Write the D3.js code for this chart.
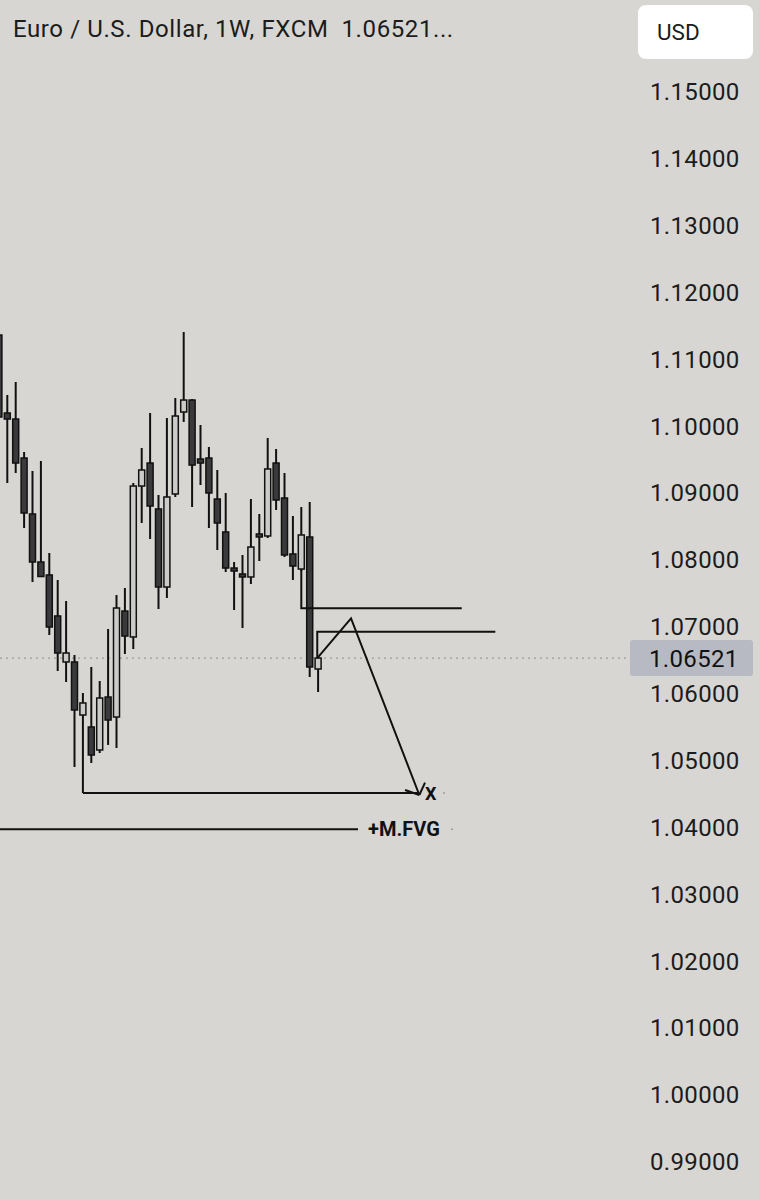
<!DOCTYPE html>
<html><head><meta charset="utf-8">
<script src="https://cdn.jsdelivr.net/npm/d3@7"></script>
<style>html,body{margin:0;padding:0;background:#d7d6d2;}svg{display:block;}</style>
</head><body>
<svg id="c" width="759" height="1200"></svg>
<script>
// Weekly candles EUR/USD (FXCM)
const weeks = ["2023-07-24","2023-07-31","2023-08-07","2023-08-14","2023-08-21","2023-08-28","2023-09-04","2023-09-11","2023-09-18","2023-09-25","2023-10-02","2023-10-09","2023-10-16","2023-10-23","2023-10-30","2023-11-06","2023-11-13","2023-11-20","2023-11-27","2023-12-04","2023-12-11","2023-12-18","2023-12-25","2024-01-01","2024-01-08","2024-01-15","2024-01-22","2024-01-29","2024-02-05","2024-02-12","2024-02-19","2024-02-26","2024-03-04","2024-03-11","2024-03-18","2024-03-25","2024-04-01","2024-04-08","2024-04-15"];
const open  = [1.11351,1.10185,1.10095,1.09512,1.08675,1.07957,1.07763,1.07150,1.06462,1.06462,1.05669,1.05490,1.05146,1.05938,1.05639,1.07224,1.06836,1.09093,1.09437,1.08750,1.07583,1.08974,1.10200,1.10379,1.09497,1.09512,1.08899,1.08406,1.07867,1.07778,1.07733,1.08376,1.08346,1.09437,1.08914,1.08077,1.07852,1.08331,1.06357];
const high  = [1.11381,1.10454,1.10649,1.09602,1.09318,1.09467,1.08092,1.07688,1.07374,1.06566,1.05998,1.06387,1.06178,1.06955,1.07464,1.07568,1.09138,1.09662,1.10185,1.08959,1.10110,1.10409,1.11396,1.10394,1.10006,1.09677,1.09333,1.08989,1.07957,1.08062,1.08899,1.08675,1.09811,1.09647,1.09288,1.08645,1.08779,1.08854,1.06521];
const low   = [1.10080,1.09138,1.09288,1.08465,1.07658,1.07733,1.06865,1.06327,1.06163,1.04892,1.04503,1.04951,1.05101,1.05221,1.05176,1.06581,1.06656,1.08540,1.08301,1.07254,1.07419,1.08929,1.10051,1.08779,1.09108,1.08465,1.08136,1.07807,1.07239,1.06970,1.07628,1.07972,1.08316,1.08735,1.08032,1.07688,1.07822,1.06237,1.06013];
const close = [1.10125,1.10095,1.09437,1.08690,1.07957,1.07740,1.06985,1.06596,1.06596,1.05744,1.05849,1.05071,1.05923,1.05594,1.07269,1.06850,1.09093,1.09333,1.08794,1.07583,1.08929,1.10140,1.10379,1.09407,1.09437,1.08989,1.08540,1.07867,1.07822,1.07733,1.08181,1.08331,1.09348,1.08884,1.08062,1.07897,1.08361,1.06387,1.06521];
const tickValues = [1.15,1.14,1.13,1.12,1.11,1.10,1.09,1.08,1.07,1.06,1.05,1.04,1.03,1.02,1.01,1.00,0.99];
const lastPrice = 1.06521;
const title = "Euro / U.S. Dollar, 1W, FXCM  1.06521...";
const currency = "USD";
// drawings: [index, price] points
const lowLine = [[10,1.04503],[49.9,1.04503]];
const upperLevel = [[36,1.07852],[36,1.07265],[55.1,1.07265]];
const lowerLevel = [[37.9,1.06521],[37.9,1.06915],[59.1,1.06915]];
const pathZig = [[37.9,1.06521],[41.92,1.07115],[50.05,1.04473]];
const arrowHead = [[[48.35,1.04548],[50.05,1.04473]],[[50.73,1.04657],[50.05,1.04473]]];
const fvgLine = [[-1.1,1.03960],[42.75,1.03960]];
const fvgLabel = "+M.FVG";
const targetLabel = "X";

const svg = d3.select("#c");
const W = 759, H = 1200;
const FONT = "Roboto, Arial, sans-serif";
svg.append("rect").attr("width",W).attr("height",H).attr("fill","#d7d6d2");

const y = d3.scaleLinear().domain([0.99,1.15]).range([1161,91]);
const x = d3.scaleLinear().domain([0,38]).range([-1.1,318.1]);
const line = d3.line().x(d=>x(d[0])).y(d=>y(d[1]));

// last price dotted line
svg.append("line").attr("x1",0).attr("x2",628).attr("y1",y(lastPrice)).attr("y2",y(lastPrice))
  .attr("stroke","#9a9a9a").attr("stroke-width",1.2).attr("stroke-dasharray","2,4");

// candles
const g = svg.append("g");
const data = weeks.map((w,i)=>({w,i,o:open[i],h:high[i],l:low[i],c:close[i]}));
g.selectAll(".wick").data(data).join("line")
  .attr("x1",d=>x(d.i)).attr("x2",d=>x(d.i))
  .attr("y1",d=>y(d.h)).attr("y2",d=>y(d.l))
  .attr("stroke","#111").attr("stroke-width",2);
g.selectAll(".body").data(data).join("rect")
  .attr("x",d=>x(d.i)-3).attr("width",6)
  .attr("y",d=>y(Math.max(d.o,d.c)))
  .attr("height",d=>Math.max(2,Math.abs(y(d.o)-y(d.c))))
  .attr("fill",d=>d.c>=d.o?"#cbcbc9":"#3a3a3c")
  .attr("stroke","#111").attr("stroke-width",1.5);

// drawings
const dg = svg.append("g").attr("fill","none").attr("stroke","#111").attr("stroke-width",2);
[lowLine,upperLevel,lowerLevel,pathZig,fvgLine].forEach(p=>dg.append("path").attr("d",line(p)));
arrowHead.forEach(p=>dg.append("path").attr("d",line(p)));

svg.append("text").attr("x",x(50.73)).attr("y",y(1.04503)+7).text(targetLabel)
  .attr("font-family",FONT).attr("font-weight","bold").attr("font-size",18).attr("fill","#111");
svg.append("circle").attr("cx",444).attr("cy",y(1.04503)).attr("r",0.8).attr("fill","#777");
svg.append("text").attr("x",x(43.95)).attr("y",y(1.03960)+7).text(fvgLabel)
  .attr("font-family",FONT).attr("font-weight","bold").attr("font-size",20).attr("fill","#111");
svg.append("circle").attr("cx",452).attr("cy",y(1.03960)).attr("r",0.8).attr("fill","#777");

// axis
const axis = d3.axisRight(y).tickValues(tickValues).tickFormat(d3.format(".5f")).tickSize(0).tickPadding(0);
const ag = svg.append("g").attr("transform","translate(650,0)").call(axis);
ag.select(".domain").remove();
ag.selectAll("text").attr("font-family",FONT).attr("font-size",24).attr("letter-spacing","0.35px").attr("fill","#1c1c1c").attr("dy","0.36em");

// last price label
svg.append("rect").attr("x",630).attr("y",y(lastPrice)-18).attr("width",123).attr("height",36).attr("rx",3).attr("fill","#b7bac3");
svg.append("text").attr("x",649).attr("y",y(lastPrice)).attr("dy","0.36em").text(d3.format(".5f")(lastPrice))
  .attr("font-family",FONT).attr("font-size",24).attr("letter-spacing","0.35px").attr("fill","#111");

// header
svg.append("text").attr("x",13).attr("y",37).text(title)
  .style("white-space","pre")
  .attr("font-family",FONT).attr("font-size",24).attr("letter-spacing","0.6px").attr("fill","#1c1c1c");
svg.append("rect").attr("x",638).attr("y",5).attr("width",115).attr("height",54).attr("rx",8).attr("fill","#ffffff");
svg.append("text").attr("x",657).attr("y",39.5).text(currency)
  .attr("font-family",FONT).attr("font-size",22.5).attr("fill","#1c1c1c");
</script>
</body></html>
